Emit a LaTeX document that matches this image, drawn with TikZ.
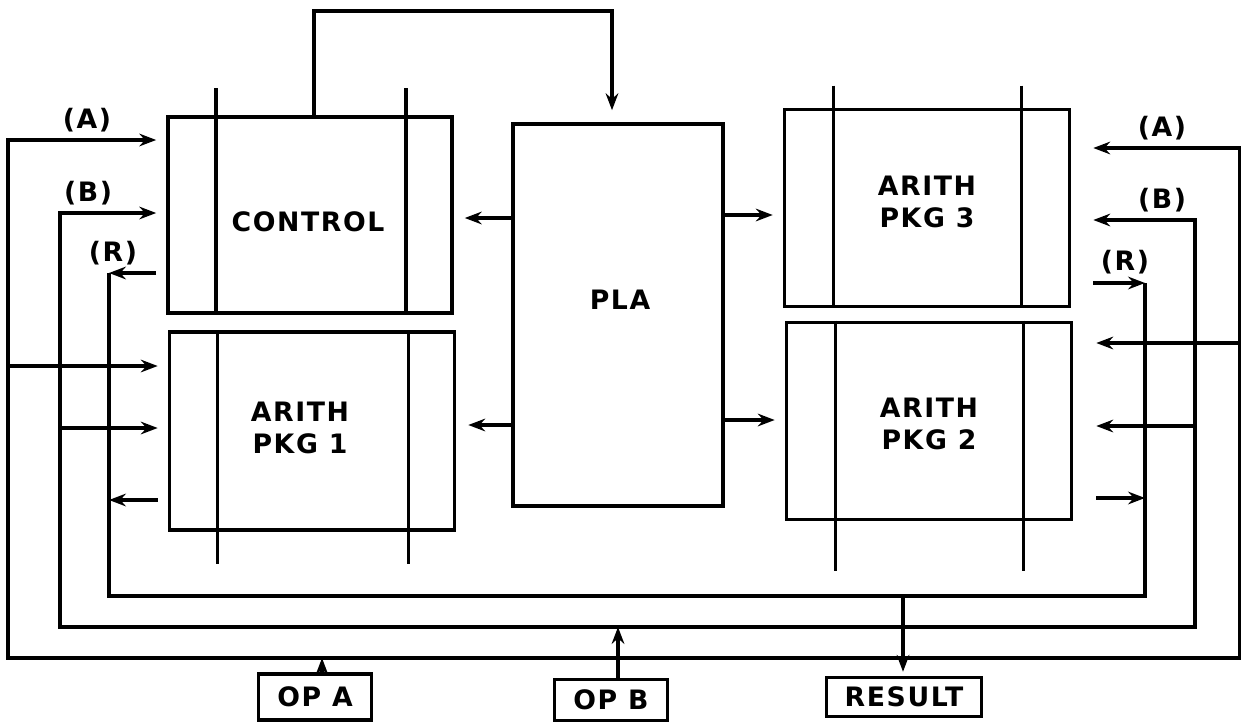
\documentclass[tikz,border=0pt]{standalone}
\usepackage{fontspec}
\newfontfamily\plotfont{DejaVu Sans}[LetterSpace=6]
\newcommand{\diagfont}{\plotfont\bfseries\fontsize{19}{23}\selectfont}
\usetikzlibrary{positioning, calc, arrows.meta}

\begin{document}
\begin{tikzpicture}[x=0.025cm, y=-0.025cm, line width=2.5pt,
    unit/.style={draw, inner sep=0pt},
    port/.style={draw, inner sep=0pt, font=\diagfont},
    txt/.style={align=center, inner sep=0pt, font=\diagfont},
    sig/.style={-{Stealth[length=12pt,width=9pt,inset=4pt]}},
    both/.style={{Stealth[length=12pt,width=9pt,inset=4pt]}-{Stealth[length=12pt,width=9pt,inset=4pt]}}]
            \useasboundingbox (0,0) rectangle (1241,723);
            % blocks
            \node[unit, minimum width=7.1cm, minimum height=4.9cm] (ctrl) at (310,215) {};
            \node[unit, minimum width=7.125cm, minimum height=4.95cm] (ar1) at (312,431) {};
            \node[unit, minimum width=5.25cm, minimum height=9.55cm] (pla) at (618,315) {};
            \node[unit, minimum width=7.125cm, minimum height=4.925cm] (ar3) at (927,208) {};
            \node[unit, minimum width=7.125cm, minimum height=4.925cm] (ar2) at (929,421) {};
            \node[txt] (ctrltxt) at ($(ctrl)+(-2,7)$) {CONTROL};
            \node[txt] (ar1txt) at ($(ar1)+(-12,-3)$) {ARITH\\PKG 1};
            \node[txt] (platxt) at ($(pla)+(2,-15)$) {PLA};
            \node[txt] (ar3txt) at ($(ar3)+(0,-6)$) {ARITH\\PKG 3};
            \node[txt] (ar2txt) at ($(ar2)+(0,3)$) {ARITH\\PKG 2};
            % rails through the blocks
            \draw ($(ctrl.north west)+(50,-27)$) -- ($(ctrl.south west)+(50,0)$);
            \draw ($(ctrl.north east)+(-48,-27)$) -- ($(ctrl.south east)+(-48,0)$);
            \draw ($(ar1.north west)+(50,0)$) -- ($(ar1.south west)+(50,32)$);
            \draw ($(ar1.north east)+(-48,0)$) -- ($(ar1.south east)+(-48,32)$);
            \draw ($(ar3.north west)+(51,-22)$) -- ($(ar3.south west)+(51,0)$);
            \draw ($(ar3.north east)+(-50,-22)$) -- ($(ar3.south east)+(-50,0)$);
            \draw ($(ar2.north west)+(51,0)$) -- ($(ar2.south west)+(51,50)$);
            \draw ($(ar2.north east)+(-50,0)$) -- ($(ar2.south east)+(-50,50)$);
            % control to PLA
            \draw[sig] ($(ctrl.north)+(4,0)$) -- ++(0,-104) -| ($(pla.north)+(-6,-12)$);
            \draw[sig] ($(pla.west)+(0,-97)$) -- ($(ctrl.east)+(11,3)$);
            \draw[sig] ($(pla.west)+(0,110)$) -- ($(ar1.east)+(12,-6)$);
            \draw[sig] ($(pla.east)+(0,-100)$) -- ($(ar3.west)+(-10,7)$);
            \draw[sig] ($(pla.east)+(0,105)$) -- ($(ar2.west)+(-10,-1)$);
            % operand and result wires
            \coordinate (aNW) at (8,140);
            \coordinate (aSW) at (8,658);
            \coordinate (aSE) at (1240,658);
            \coordinate (aNE) at (1240,148);
            \coordinate (bNW) at (60,213);
            \coordinate (bSW) at (60,627);
            \coordinate (bSE) at (1195,627);
            \coordinate (bNE) at (1195,220);
            \coordinate (rNW) at (109,273);
            \coordinate (rSW) at (109,596);
            \coordinate (rSE) at (1145,596);
            \coordinate (rNE) at (1145,283);
            \draw[both] ($(ar3.east |- aNE)+(22,0)$) -- (aNE) -- (aSE) -- (aSW) -- (aNW) -- ($(ctrl.west |- aNW)+(-10,0)$);
            \draw[both] ($(ar3.east |- bNE)+(22,0)$) -- (bNE) -- (bSE) -- (bSW) -- (bNW) -- ($(ctrl.west |- bNW)+(-10,0)$);
            \draw (rNW) -- (rSW) -- (rSE) -- (rNE);
            \draw[sig] ($(ctrl.west |- rNW)+(-10,0)$) -- (rNW);
            \draw[sig] ($(ar3.east |- rNE)+(22,0)$) -- (rNE);
            % branches
            \coordinate (aJ1) at (8,366);
            \coordinate (bJ1) at (60,428);
            \coordinate (rJ1) at (109,500);
            \coordinate (aJ2) at (1240,343);
            \coordinate (bJ2) at (1195,426);
            \coordinate (rJ2) at (1145,498);
            \draw[sig] (aJ1) -- ($(ar1.west |- aJ1)+(-10,0)$);
            \draw[sig] (bJ1) -- ($(ar1.west |- bJ1)+(-10,0)$);
            \draw[sig] ($(ar1.west |- rJ1)+(-10,0)$) -- (rJ1);
            \draw[sig] (aJ2) -- ($(ar2.east |- aJ2)+(23,0)$);
            \draw[sig] (bJ2) -- ($(ar2.east |- bJ2)+(23,0)$);
            \draw[sig] ($(ar2.east |- rJ2)+(23,0)$) -- (rJ2);
            \node[txt] (labAl) at (87,120) {(A)};
            \node[txt] (labBl) at (88,193) {(B)};
            \node[txt] (labRl) at (113,253) {(R)};
            \node[txt] (labAr) at (1162,128) {(A)};
            \node[txt] (labBr) at (1162,200) {(B)};
            \node[txt] (labRr) at (1125,262) {(R)};
            % ports
            \node[port, minimum width=2.825cm, minimum height=1.15cm] (opa) at (315,697) {OP A};
            \node[port, minimum width=2.825cm, minimum height=1.025cm] (opb) at (611,700) {OP B};
            \node[port, minimum width=3.875cm, minimum height=0.975cm] (res) at (904,697) {RESULT};
            \coordinate (aIn) at (322,658);
            \coordinate (bIn) at (618,627);
            \coordinate (rOut) at (903,596);
            \draw[sig] (opa.north -| aIn) -- (aIn);
            \draw[sig] (opb.north -| bIn) -- (bIn);
            \draw[sig] (rOut) -- ($(rOut |- res.north)+(0,-4)$);
        \end{tikzpicture}
\end{document}
